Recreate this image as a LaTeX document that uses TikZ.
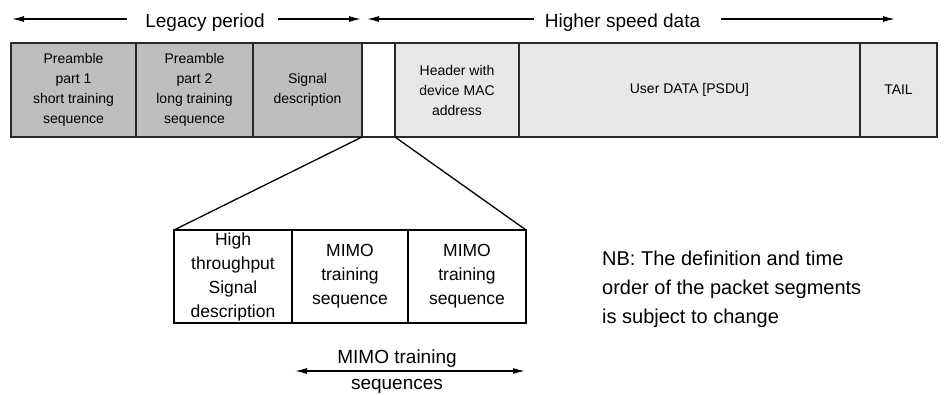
\documentclass[tikz,border=0pt]{standalone}
\usepackage{fontspec}
\setmainfont{Liberation Sans}
\usetikzlibrary{arrows.meta}
\definecolor{segdark}{RGB}{190,190,190}
\definecolor{seglight}{RGB}{231,231,231}
\definecolor{segline}{RGB}{40,40,40}
\begin{document}
\begin{tikzpicture}[x=1pt,y=-1pt,
  seg/.style={draw=segline, line width=1.1pt, minimum height=94pt, inner sep=0pt, outer sep=0pt, align=center, font=\fontsize{14}{20}\selectfont},
  sub/.style={draw=black, line width=1.1pt, minimum height=93pt, inner sep=0pt, outer sep=0pt, align=center, font=\fontsize{17.5}{24}\selectfont},
  arr/.style={-{Latex[length=12pt,width=6pt]}, line width=1.3pt},
  arrboth/.style={{Latex[length=12pt,width=6pt]}-{Latex[length=12pt,width=6pt]}, line width=1.3pt},
  lbl/.style={font=\fontsize{19}{23}\selectfont, inner sep=0pt},
  conn/.style={line width=1.3pt}
]
\useasboundingbox (0,0) rectangle (944,394);

% top packet segments
\node[seg, fill=segdark, minimum width=125pt] (p1) at (73.5,90) {Preamble\\part 1\\short training\\sequence};
\node[seg, fill=segdark, minimum width=117pt] (p2) at (194.5,90) {Preamble\\part 2\\long training\\sequence};
\node[seg, fill=segdark, minimum width=109pt] (sig) at (307.5,90) {Signal\\description};
\node[seg, fill=white, minimum width=33pt] (gap) at (378.5,90) {};
\node[seg, fill=seglight, minimum width=124pt] (hdr) at (457,90) {Header with\\device MAC\\address};
\node[seg, fill=seglight, minimum width=341pt] (data) at (689.5,90) {User DATA [PSDU]};
\node[seg, fill=seglight, minimum width=77pt] (tail) at (898.5,90) {TAIL};

% period labels with arrows
\node[lbl, anchor=base] (legacy) at (205,27) {Legacy period};
\coordinate (lL) at (12,19);
\coordinate (lR) at (361,19);
\draw[arr, shorten <=18pt] (legacy.west |- lL) -- (lL);
\draw[arr, shorten <=13pt] (legacy.east |- lR) -- (lR);

\node[lbl, anchor=base] (hsd) at (622.5,27) {Higher speed data};
\coordinate (hL) at (367,19);
\coordinate (hR) at (895,19);
\draw[arr, shorten <=11pt] (hsd.west |- hL) -- (hL);
\draw[arr, shorten <=21pt] (hsd.east |- hR) -- (hR);

% expanded segment
\node[sub, minimum width=118pt] (ht) at (233,276.5) {High\\throughput\\Signal\\description};
\node[sub, minimum width=116pt] (m1) at (350,276.5) {MIMO\\training\\sequence};
\node[sub, minimum width=118pt] (m2) at (467,276.5) {MIMO\\training\\sequence};

\draw[conn] (gap.south west) -- (ht.north west);
\draw[conn] (gap.south east) -- (m2.north east);

% MIMO training sequences arrow
\coordinate (ma) at (295,371);
\coordinate (mb) at (525,371);
\draw[arrboth] (ma) -- (mb);
\node[lbl, anchor=base] (mt1) at (397,363) {MIMO training};
\node[lbl, anchor=base] (mt2) at (397,389) {sequences};

% note
\node[font=\fontsize{20}{29}\selectfont, align=left, anchor=north west, inner sep=0pt] (nb) at (602,251) {NB: The definition and time\\order of the packet segments\\is subject to change};
\end{tikzpicture}
\end{document}
